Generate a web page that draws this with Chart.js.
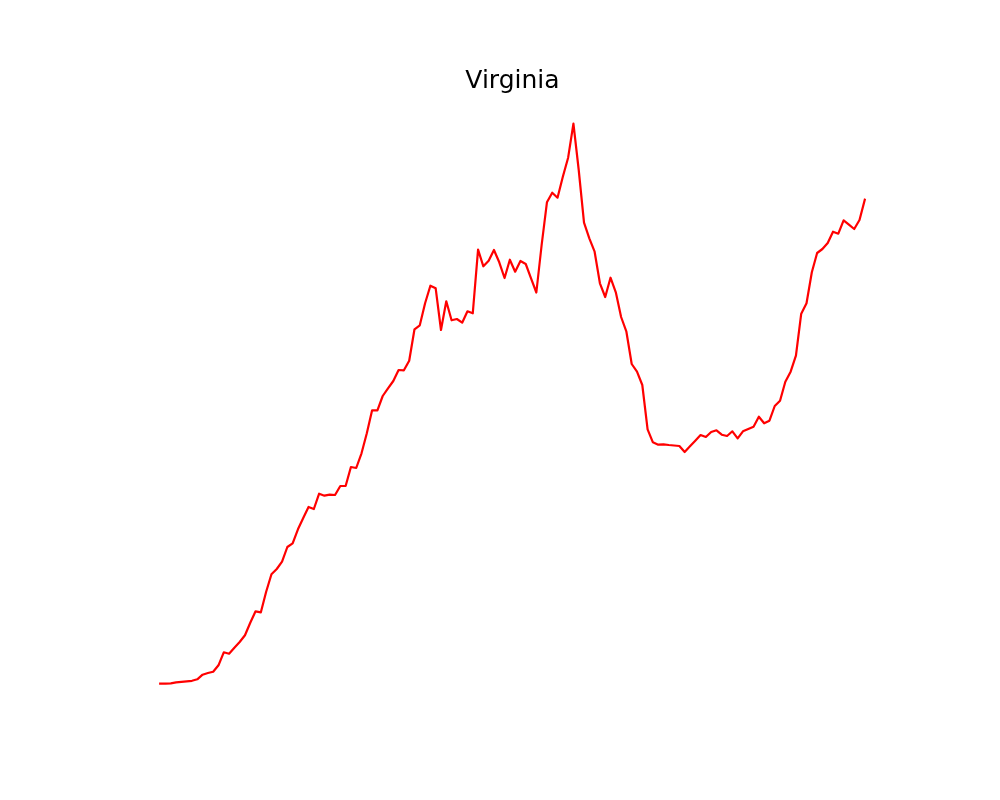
<!DOCTYPE html>
<html>
<head>
<meta charset="utf-8">
<title>Virginia</title>
<script src="https://cdn.jsdelivr.net/npm/chart.js@4"></script>
<style>
  html, body { margin: 0; padding: 0; background: #fff; }
  canvas { display: block; }
</style>
</head>
<body>
<canvas id="chart" width="1000" height="800"></canvas>
<script>
const stateName = "Virginia";

// there is no axis so the units are arbitrary
const values = [
  28.3, 28.3, 28.7, 29.7, 30.2, 30.7, 31.2, 32.7, 37.3, 39,
  40.3, 46.7, 59.7, 58.3, 64.3, 70, 76.7, 89.3, 100.7, 99.7,
  120.3, 137.7, 143, 150.3, 165, 168.7, 182.7, 194, 205, 203,
  218.3, 216.3, 217.3, 217, 226, 226, 245, 244, 258.7, 278.7,
  301.7, 301.7, 316, 323.7, 331, 342, 341.7, 351.3, 382.7, 386.7,
  408.7, 426.3, 423.7, 382, 410.7, 391.7, 393, 389.3, 400.7, 398.7,
  462.3, 445.7, 451.3, 462, 449.7, 434, 452.3, 440.3, 451, 448,
  433.7, 419.5, 467, 509.7, 519.3, 514.3, 535.3, 554.3, 588.3, 542,
  489.3, 473.7, 460.3, 428.7, 415, 434.3, 419.7, 395, 380.3, 348,
  340.3, 327, 282.7, 269.7, 267.3, 267.7, 267, 266.5, 266, 260,
  265.7, 271.3, 277, 275, 280, 281.7, 277.3, 276, 280.7, 273.7,
  280.7, 283, 285.3, 295.3, 288.7, 291.3, 306, 311.3, 330.3, 340.3,
  356.3, 398.3, 408.7, 439.7, 459, 463, 469, 480.3, 478.3, 491.7,
  487.3, 483, 492, 512.3
];
const categories = values.map((_, i) => i);

const ctx = document.getElementById("chart").getContext("2d");

new Chart(ctx, {
  type: "line",
  data: {
    labels: categories,
    datasets: [{
      data: values,
      borderColor: "#ff0000",
      borderWidth: 2.2,
      borderJoinStyle: "round",
      borderCapStyle: "square",
      pointRadius: 0,
      tension: 0,
      fill: false
    }]
  },
  options: {
    responsive: false,
    animation: false,
    devicePixelRatio: 1,
    layout: {
      padding: { left: 160.2, right: 135.2, top: 68.5, bottom: 88 }
    },
    plugins: {
      legend: { display: false },
      tooltip: { enabled: false },
      title: {
        display: true,
        text: stateName,
        fullSize: false,
        color: "#000000",
        font: { family: "'DejaVu Sans'", size: 25, weight: "normal", lineHeight: 1 },
        padding: { top: 0, bottom: 2.5 }
      }
    },
    scales: {
      x: { type: "category", display: false, offset: false },
      y: { type: "linear", display: false, min: 0, max: 616 }
    }
  }
});
</script>
</body>
</html>
